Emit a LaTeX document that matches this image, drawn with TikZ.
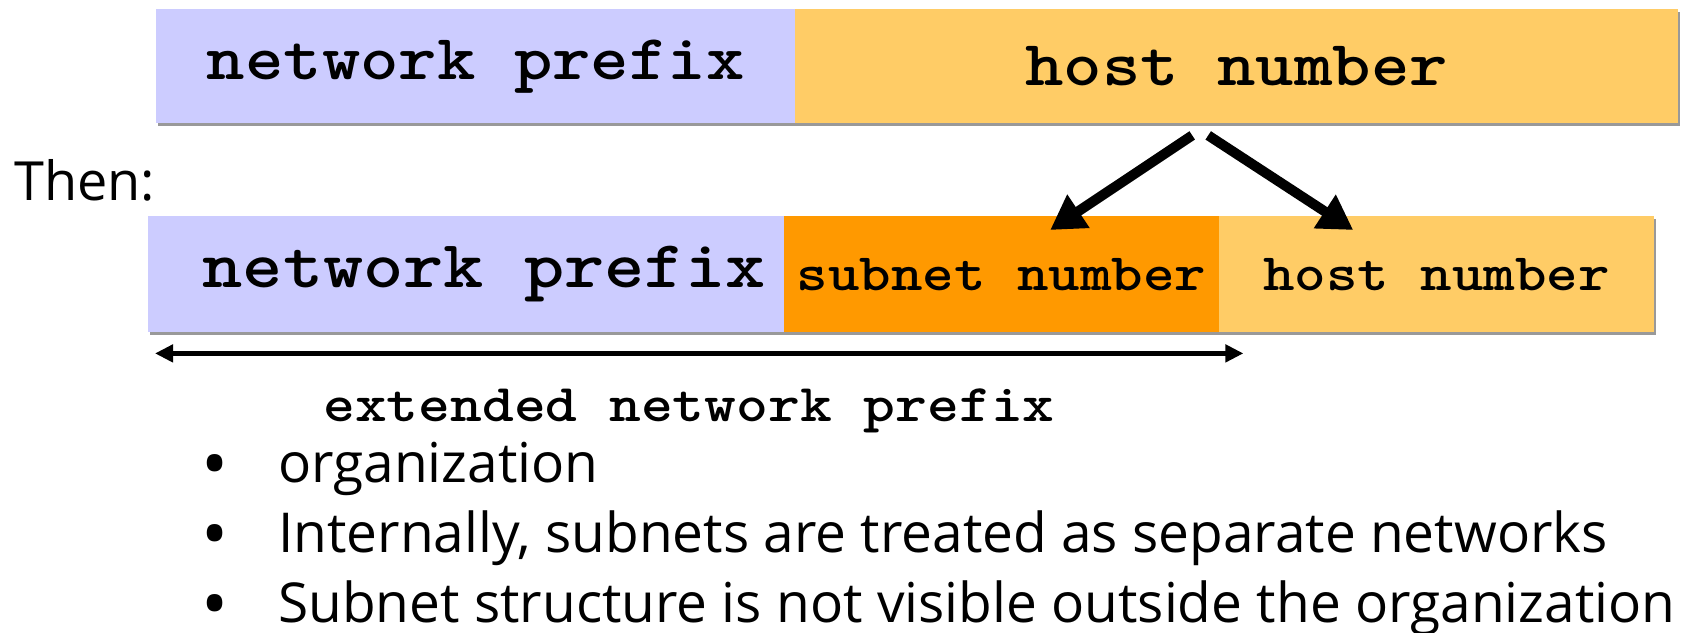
\documentclass[tikz,border=0pt]{standalone}
\usepackage{fontspec}
\setmainfont{Open Sans}
\newfontfamily\courbf{lmmonolt10-bold.otf}[FakeStretch=1.143]
\usetikzlibrary{arrows.meta,shadows}
\definecolor{lav}{HTML}{CCCCFF}
\definecolor{lorange}{HTML}{FFCC66}
\definecolor{dorange}{HTML}{FF9900}
\begin{document}
\begin{tikzpicture}[x=1pt,y=-1pt,
  bar/.style={fill=#1, draw=none, inner sep=0pt, anchor=north west,
    drop shadow={shadow xshift=2pt,shadow yshift=-3pt,fill=black,opacity=0.4}},
  mono/.style={font=\courbf\fontsize{#1}{#1}\selectfont},
  sans/.style={font=\fontsize{#1}{#1}\selectfont, inner sep=0pt},
  bulletmark/.style={font=\fontsize{72}{72}\selectfont, inner sep=0pt, text depth=0pt, anchor=base},
  bigarrow/.style={line width=10pt, -{Triangle[length=34pt,width=38pt]}},
  dblarrow/.style={line width=5pt, {Triangle[length=18pt,width=17pt]}-{Triangle[length=18pt,width=17pt]}}
]
\useasboundingbox (0,0) rectangle (1692,632);

% first row
\node[bar=lav, minimum width=639pt, minimum height=114pt, mono=64] (np1) at (156,9) {network prefix};
\node[bar=lorange, minimum width=883pt, minimum height=114pt, mono=64] (hn1) at (795,9) {host number};

% Then:
\node[sans=54, anchor=base west] (then) at (14,200) {Then:};

% second row
\node[bar=lav, minimum width=636pt, minimum height=116pt, mono=67] (np2) at (148,216) {\hspace*{36pt}network prefix};
\node[bar=dorange, minimum width=435pt, minimum height=116pt, mono=52.5] (sn) at (784,216) {subnet number};
\node[bar=lorange, minimum width=435pt, minimum height=116pt, mono=52.5] (hn2) at (1219,216) {host number};

% split arrows
\draw[bigarrow] ([shift={(-44.5,12)}]hn1.south) -- ([shift={(48.5,14)}]sn.north);
\draw[bigarrow] ([shift={(-28.5,12)}]hn1.south) -- ([shift={(-83.5,14)}]hn2.north);

% extended prefix arrow
\draw[dblarrow] ([shift={(7,21)}]np2.south west) -- ([shift={(24,21)}]sn.south east);
\node[mono=53, anchor=base west, inner sep=0pt] (ext) at (323,421) {extended network prefix};

% bullets
\node[bulletmark] (b1) at (215,489) {•};
\node[sans=55, anchor=base west] (t1) at (278,482) {organization};
\node[bulletmark] (b2) at (215,559) {•};
\node[sans=55, anchor=base west] (t2) at (278,552) {Internally, subnets are treated as separate networks};
\node[bulletmark] (b3) at (215,629) {•};
\node[sans=55, anchor=base west] (t3) at (278,622) {Subnet structure is not visible outside the organization};
\end{tikzpicture}
\end{document}
